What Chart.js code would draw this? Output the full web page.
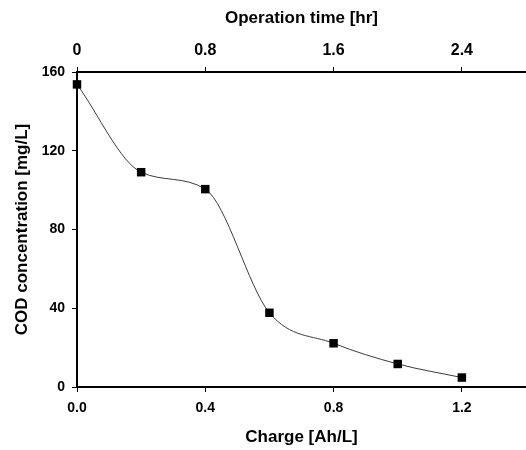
<!DOCTYPE html>
<html>
<head>
<meta charset="utf-8">
<script src="https://cdn.jsdelivr.net/npm/chart.js@4"></script>
<style>
  html, body { margin: 0; padding: 0; background: #fff; }
  canvas { display: block; }
</style>
</head>
<body>
<canvas id="c" width="526" height="450"></canvas>
<script>
// Data
const charge = [0.0, 0.2, 0.4, 0.6, 0.8, 1.0, 1.2];          // Ah/L
const cod = [153.7, 109.1, 100.5, 37.7, 22.2, 11.7, 4.8];      // mg/L
const chargeTicks = [0.0, 0.4, 0.8, 1.2];
const timeTicks = [0, 0.8, 1.6, 2.4];
const timeTickLabels = ['0', '0.8', '1.6', '2.4'];
const codTicks = [0, 40, 80, 120, 160];

const FONT = "'Liberation Sans', Arial, Helvetica, sans-serif";
const points = charge.map((x, i) => ({ x: x, y: cod[i] }));

function noPad(s) { s.paddingLeft = 0; s.paddingRight = 0; s.paddingTop = 0; s.paddingBottom = 0; }

new Chart(document.getElementById('c'), {
  type: 'line',
  data: {
    datasets: [{
      data: points,
      xAxisID: 'x',
      yAxisID: 'y',
      borderColor: '#3a3a3a',
      borderWidth: 1,
      cubicInterpolationMode: 'monotone',
      pointStyle: 'rect',
      pointRadius: 6,
      pointHoverRadius: 6,
      pointBackgroundColor: '#000',
      pointBorderColor: '#000',
      pointBorderWidth: 0,
      clip: false,
      fill: false
    }]
  },
  options: {
    responsive: false,
    devicePixelRatio: 1,
    animation: false,
    layout: { padding: 0, autoPadding: false },
    plugins: { legend: { display: false }, tooltip: { enabled: false } },
    events: [],
    scales: {
      x: {
        type: 'linear',
        position: 'bottom',
        min: 0, max: 1.4,
        afterBuildTicks: s => { s.ticks = chargeTicks.map(v => ({ value: v })); },
        afterFit: s => { s.height = 63; noPad(s); },
        grid: { drawOnChartArea: false, drawTicks: true, tickLength: 5, color: '#000', lineWidth: 1 },
        border: { display: true, color: '#000', width: 2 },
        ticks: {
          padding: 8,
          color: '#000',
          font: { family: FONT, size: 14, weight: 'bold' },
          maxRotation: 0,
          callback: v => Number(v).toFixed(1)
        },
        title: {
          display: true, text: 'Charge [Ah/L]', color: '#000',
          font: { family: FONT, size: 17, weight: 'bold' },
          padding: { top: 0, bottom: 2 }
        }
      },
      x2: {
        type: 'linear',
        position: 'top',
        min: 0, max: 2.8,
        afterBuildTicks: s => { s.ticks = timeTicks.map(v => ({ value: v })); },
        afterFit: s => { s.height = 72; noPad(s); },
        grid: { drawOnChartArea: false, drawTicks: true, tickLength: 5, color: '#000', lineWidth: 1 },
        border: { display: true, color: '#000', width: 2 },
        ticks: {
          padding: 7,
          color: '#000',
          font: { family: FONT, size: 16, weight: 'bold' },
          maxRotation: 0,
          callback: (v, i) => timeTickLabels[i]
        },
        title: {
          display: true, text: 'Operation time [hr]', color: '#000',
          font: { family: FONT, size: 17, weight: 'bold' },
          padding: { top: 8, bottom: 0 }
        }
      },
      y: {
        type: 'linear',
        position: 'left',
        min: 0, max: 160,
        afterBuildTicks: s => { s.ticks = codTicks.map(v => ({ value: v })); },
        afterFit: s => { s.width = 77; noPad(s); },
        grid: { drawOnChartArea: false, drawTicks: true, tickLength: 5, color: '#000', lineWidth: 1 },
        border: { display: true, color: '#000', width: 2 },
        ticks: {
          padding: 7,
          color: '#000',
          font: { family: FONT, size: 14, weight: 'bold' }
        },
        title: {
          display: true, text: 'COD concentration [mg/L]', color: '#000',
          font: { family: FONT, size: 17, weight: 'bold' },
          padding: { top: 12, bottom: 0 }
        }
      }
    }
  }
});
</script>
</body>
</html>
